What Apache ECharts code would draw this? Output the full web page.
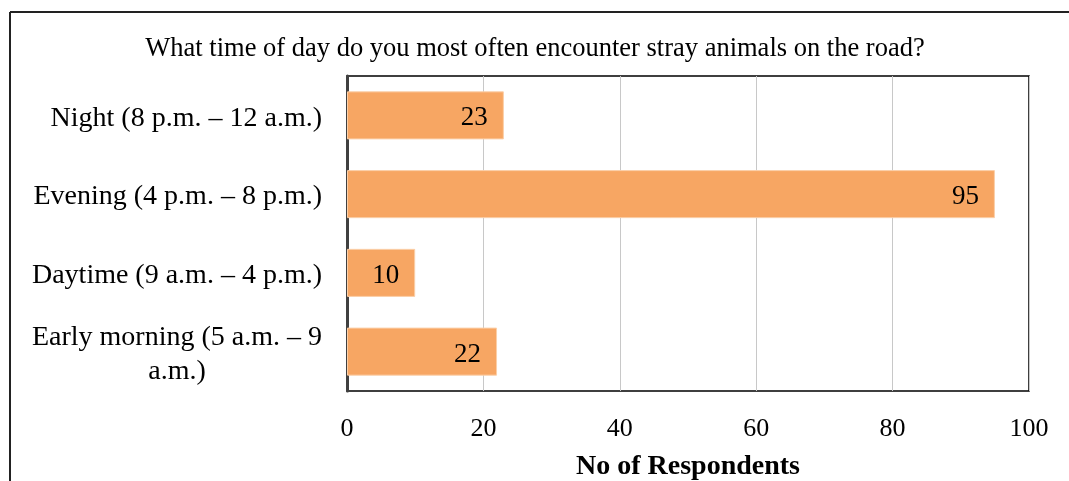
<!DOCTYPE html>
<html>
<head>
<meta charset="utf-8">
<script src="https://cdn.jsdelivr.net/npm/echarts@6/dist/echarts.min.js"></script>
<style>html,body{margin:0;padding:0;background:#fff;}#chart{width:1069px;height:481px;}</style>
</head>
<body>
<div id="chart"></div>
<script>
var titleText = 'What time of day do you most often encounter stray animals on the road?';
var categories = ['Early morning (5 a.m. – 9\na.m.)', 'Daytime (9 a.m. – 4 p.m.)', 'Evening (4 p.m. – 8 p.m.)', 'Night (8 p.m. – 12 a.m.)'];
var values = [22, 10, 95, 23];
var xTicks = [0, 20, 40, 60, 80, 100];
var xAxisName = 'No of Respondents';

var serif = '"Liberation Serif", "Times New Roman", serif';
var chart = echarts.init(document.getElementById('chart'));
chart.setOption({
  backgroundColor: '#fff',
  animation: false,
  title: {
    text: titleText, left: 530, top: 31, textAlign: 'center',
    textStyle: { fontFamily: serif, fontSize: 26.5, fontWeight: 'normal', color: '#000' }
  },
  graphic: [
    { type: 'line', shape: { x1: 10, y1: 12, x2: 1069, y2: 12 }, style: { stroke: '#222', lineWidth: 2 } },
    { type: 'line', shape: { x1: 10, y1: 12, x2: 10, y2: 481 }, style: { stroke: '#222', lineWidth: 2 } }
  ],
  grid: { left: 347, right: 40, top: 76, bottom: 90, show: true, borderColor: '#000', borderWidth: 1.5, containLabel: false, outerBoundsMode: 'none' },
  xAxis: {
    type: 'value', min: xTicks[0], max: xTicks[xTicks.length - 1], interval: 20,
    name: xAxisName, nameLocation: 'middle', nameGap: 62,
    nameTextStyle: { fontFamily: serif, fontSize: 28, fontWeight: 'bold', color: '#000' },
    axisLine: { show: false }, axisTick: { show: false },
    axisLabel: { fontFamily: serif, fontSize: 26, color: '#000', margin: 25 },
    splitLine: { show: true, lineStyle: { color: '#c8c8c8', width: 1 } }
  },
  yAxis: {
    type: 'category', data: categories,
    axisLine: { show: true, lineStyle: { color: '#404040', width: 3 } },
    axisTick: { show: false },
    axisLabel: {
      margin: 25,
      formatter: function (v) { return (v.indexOf('\n') >= 0 ? '{m|' : '{c|') + v + '}'; },
      rich: {
        c: { fontFamily: serif, fontSize: 28, color: '#000', align: 'center', lineHeight: 34, padding: [6, 0, 0, 0] },
        m: { fontFamily: serif, fontSize: 28, color: '#000', align: 'center', lineHeight: 34, padding: [7, 0, 0, 0] }
      }
    },
    splitLine: { show: false }
  },
  series: [{
    type: 'bar', data: values, barWidth: '61%',
    itemStyle: { color: '#F7A663', borderColor: '#FBCFA8', borderWidth: 1 },
    label: { show: true, position: 'insideRight', distance: 16, offset: [0, 3], fontFamily: serif, fontSize: 27, color: '#000' }
  }]
});
</script>
</body>
</html>
